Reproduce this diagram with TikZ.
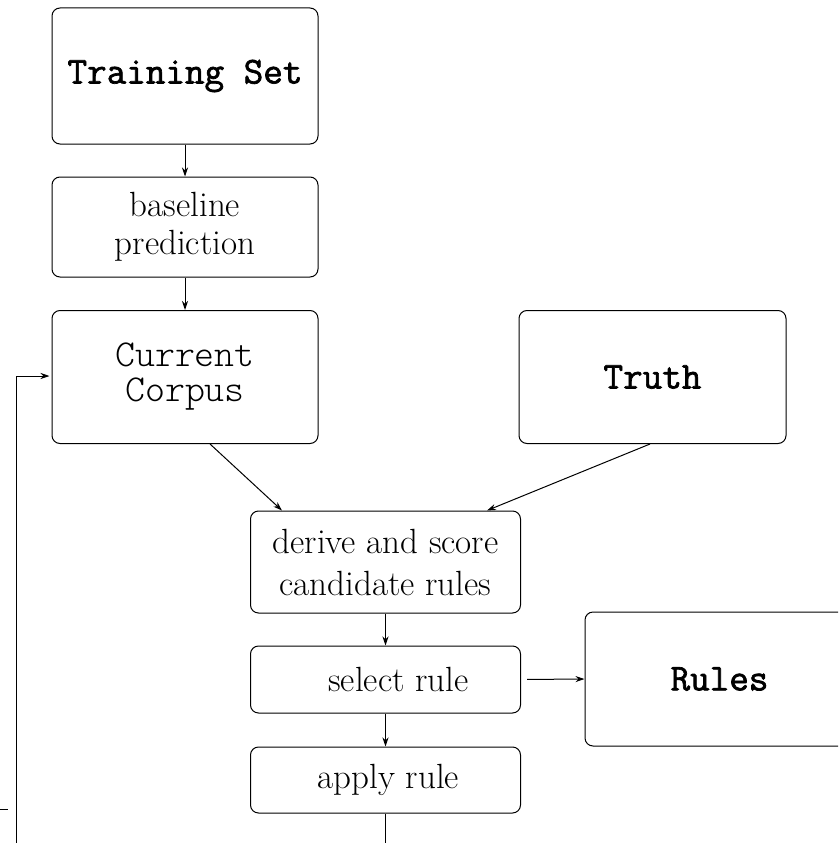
\documentclass[tikz,border=0pt]{standalone}
\usepackage{fontspec}
\newfontfamily\courfont{Latin Modern Mono Light}
\newfontfamily\courbold[FakeBold=1.8]{Latin Modern Mono}
\usetikzlibrary{arrows.meta}

\begin{document}
\begin{tikzpicture}[x=1pt, y=-1pt, line width=1pt,
  box/.style={draw, rounded corners=8pt, align=center, inner sep=0pt},
  serif/.style={font=\fontsize{35}{42}\selectfont},
  mono/.style={font=\fontsize{38}{35}\selectfont\courfont},
  monobold/.style={font=\fontsize{38}{35}\selectfont\courbold},
  flow/.style={-{Stealth[length=9pt,width=6pt]}}]

\clip (0,0) rectangle (838,843);
\useasboundingbox (0,0) rectangle (838,843);

\node[name=train, box, monobold, minimum width=266, minimum height=136] at (185,76) {Training Set};

\node[name=base, box, serif, font=\fontsize{35}{38}\selectfont, minimum width=266, minimum height=100] at (185,227) {baseline\\prediction};

\node[name=corpus, box, mono, minimum width=266, minimum height=133] at (185,377) {Current\\Corpus};
\node[name=truth, box, monobold, minimum width=267, minimum height=133] at (652.5,377) {Truth};

\node[name=derive, box, serif, minimum width=270, minimum height=102] at (385.5,562) {derive and score\\candidate rules};
\node[name=select, box, serif, minimum width=270, minimum height=67] at (385.5,679.5) {\hspace{26pt}select rule};
\node[name=apply, box, serif, minimum width=270, minimum height=66] at (385.5,780) {\hspace{6pt}apply rule};

\node[name=rules, box, monobold, minimum width=269, minimum height=134] at (719.5,679) {Rules};

\coordinate (apply-end) at (385.5,860);
\coordinate (loop-low) at (16,860);
\coordinate (loop-turn) at (16,376);
\coordinate (stub-a) at (0,809);
\coordinate (stub-b) at (8,809);

\draw[flow] (train) -- (base);
\draw[flow] (base) -- (corpus);
\draw[flow] ([xshift=25pt]corpus.south) -- ([xshift=-103.5pt]derive.north);
\draw[flow] ([xshift=-2.5pt]truth.south) -- ([xshift=101.5pt]derive.north);
\draw[flow] (derive) -- (select);
\draw[flow] (select) -- (apply);
\draw[flow, shorten <=6pt] (select.east) -- (rules.west);
\draw (apply) -- (apply-end);
\draw[flow, shorten >=2pt] (loop-low) -- (loop-turn) -- (loop-turn -| corpus.west);
\draw (stub-a) -- (stub-b);
\end{tikzpicture}
\end{document}
